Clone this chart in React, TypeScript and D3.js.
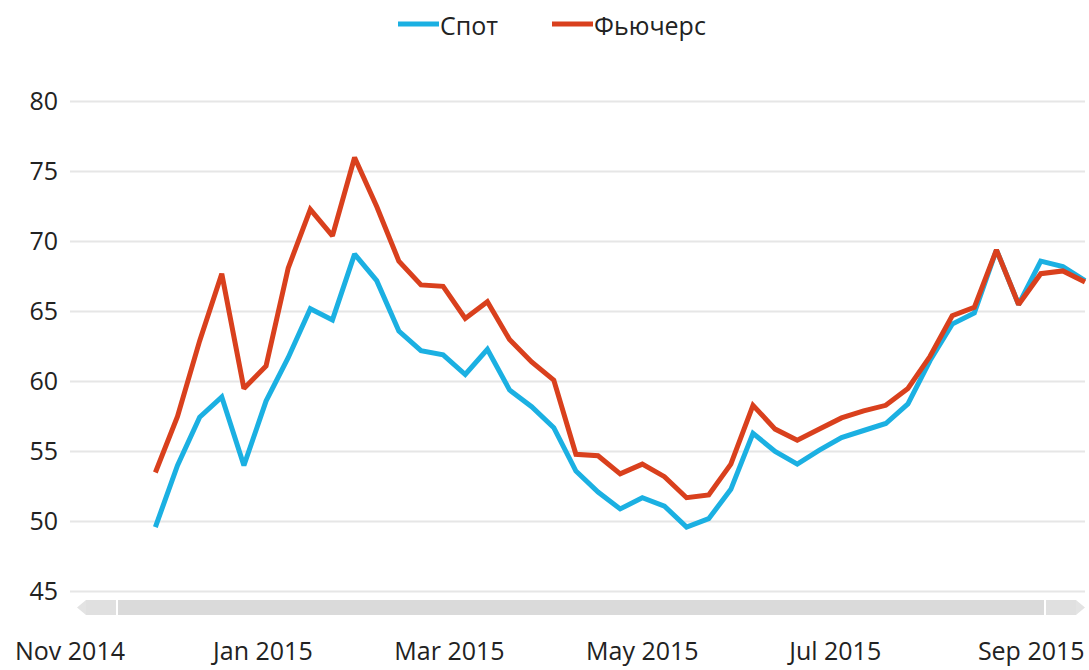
import React, { useEffect, useRef } from "react";
import * as d3 from "d3";

const dates: string[] = [
  "2014-11-28", "2014-12-05", "2014-12-12", "2014-12-19", "2014-12-26",
  "2015-01-02", "2015-01-09", "2015-01-16", "2015-01-23", "2015-01-30",
  "2015-02-06", "2015-02-13", "2015-02-20", "2015-02-27",
  "2015-03-06", "2015-03-13", "2015-03-20", "2015-03-27",
  "2015-04-03", "2015-04-10", "2015-04-17", "2015-04-24",
  "2015-05-01", "2015-05-08", "2015-05-15", "2015-05-22", "2015-05-29",
  "2015-06-05", "2015-06-12", "2015-06-19", "2015-06-26",
  "2015-07-03", "2015-07-10", "2015-07-17", "2015-07-24", "2015-07-31",
  "2015-08-07", "2015-08-14", "2015-08-21", "2015-08-28",
  "2015-09-04", "2015-09-11", "2015-09-18",
];

const spot: number[] = [
  49.6, 54.0, 57.45, 58.9, 54.0, 58.6, 61.7, 65.2, 64.4, 69.1,
  67.2, 63.6, 62.2, 61.9, 60.5, 62.3, 59.4, 58.2, 56.7, 53.6,
  52.1, 50.9, 51.7, 51.1, 49.6, 50.2, 52.3, 56.3, 55.0, 54.1,
  55.1, 56.0, 56.5, 57.0, 58.4, 61.5, 64.1, 64.9, 69.4, 65.5,
  68.6, 68.2, 67.2,
];

const futures: number[] = [
  53.5, 57.5, 62.9, 67.7, 59.5, 61.1, 68.1, 72.3, 70.4, 76.0,
  72.5, 68.6, 66.9, 66.8, 64.5, 65.7, 63.0, 61.4, 60.1, 54.8,
  54.7, 53.4, 54.1, 53.2, 51.7, 51.9, 54.1, 58.3, 56.6, 55.8,
  56.6, 57.4, 57.9, 58.3, 59.5, 61.8, 64.7, 65.3, 69.4, 65.5,
  67.7, 67.9, 67.1,
];

const yTicks: number[] = [45, 50, 55, 60, 65, 70, 75, 80];
const xTickDates: string[] = ["2014-11-01", "2015-01-01", "2015-03-01", "2015-05-01", "2015-07-01", "2015-09-01"];
const seriesNames: string[] = ["Спот", "Фьючерс"];
const seriesColors: string[] = ["#1bb0e2", "#d9401d"];

const W = 1089;
const H = 670;
const FONT = "'Open Sans', 'Noto Sans', sans-serif";

export default function App() {
  const ref = useRef<SVGSVGElement | null>(null);

  useEffect(() => {
    const svg = d3.select(ref.current);
    svg.selectAll("*").remove();
    const parse = d3.utcParse("%Y-%m-%d");
    const ds = dates.map((d) => parse(d) as Date);

    const x = d3
      .scaleUtc()
      .domain([parse("2014-11-01") as Date, parse("2015-09-18") as Date])
      .range([70, 1085]);
    const y = d3.scaleLinear().domain([45, 80]).range([591.5, 101.5]);

    // gridlines
    svg
      .append("g")
      .selectAll("line")
      .data(yTicks)
      .join("line")
      .attr("x1", 70)
      .attr("x2", 1085)
      .attr("y1", (d) => y(d))
      .attr("y2", (d) => y(d))
      .attr("stroke", "#e6e6e6")
      .attr("stroke-width", 2);

    // y labels
    svg
      .append("g")
      .selectAll("text")
      .data(yTicks)
      .join("text")
      .attr("x", 58)
      .attr("y", (d) => y(d))
      .attr("dy", "0.35em")
      .attr("text-anchor", "end")
      .attr("font-family", FONT)
      .attr("font-size", 25)
      .attr("fill", "#222")
      .text((d) => String(d));

    // scrollbar
    const sb = svg.append("g");
    sb.append("rect").attr("x", 86).attr("y", 600).attr("width", 990).attr("height", 15).attr("fill", "#dadada");
    sb.append("path").attr("d", "M77,607.5 L86,600 L86,615 Z").attr("fill", "#e3e3e3");
    sb.append("path").attr("d", "M1085,607.5 L1076,600 L1076,615 Z").attr("fill", "#e3e3e3");
    sb.append("rect").attr("x", 86).attr("y", 600).attr("width", 30).attr("height", 15).attr("fill", "#e0e0e0");
    sb.append("rect").attr("x", 1046).attr("y", 600).attr("width", 30).attr("height", 15).attr("fill", "#e0e0e0");
    sb.append("line").attr("x1", 117).attr("x2", 117).attr("y1", 600).attr("y2", 615).attr("stroke", "#fff").attr("stroke-width", 2);
    sb.append("line").attr("x1", 1045).attr("x2", 1045).attr("y1", 600).attr("y2", 615).attr("stroke", "#fff").attr("stroke-width", 2);

    // x labels
    const fmt = d3.utcFormat("%b %Y");
    svg
      .append("g")
      .selectAll("text")
      .data(xTickDates.map((d) => parse(d) as Date))
      .join("text")
      .attr("x", (d) => x(d))
      .attr("y", 660)
      .attr("text-anchor", "middle")
      .attr("font-family", FONT)
      .attr("font-size", 25)
      .attr("fill", "#222")
      .text((d) => fmt(d));

    // lines
    const line = d3
      .line<number>()
      .x((_, i) => x(ds[i]))
      .y((d) => y(d));
    [spot, futures].forEach((vals, k) => {
      svg
        .append("path")
        .attr("d", line(vals) || "")
        .attr("fill", "none")
        .attr("stroke", seriesColors[k])
        .attr("stroke-width", 5)
        .attr("stroke-linejoin", "miter")
        .attr("stroke-miterlimit", 2);
    });

    // legend
    const legendX = [398, 552];
    const lg = svg.append("g");
    seriesNames.forEach((name, k) => {
      lg.append("line")
        .attr("x1", legendX[k])
        .attr("x2", legendX[k] + 41)
        .attr("y1", 24)
        .attr("y2", 24)
        .attr("stroke", seriesColors[k])
        .attr("stroke-width", 5);
      lg.append("text")
        .attr("x", legendX[k] + 42)
        .attr("y", 35)
        .attr("font-family", FONT)
        .attr("font-size", 25)
        .attr("fill", "#222")
        .text(name);
    });
  }, []);

  return (
    <svg
      ref={ref}
      width={W}
      height={H}
      style={{ position: "absolute", left: 0, top: 0, display: "block", background: "#fff" }}
    />
  );
}
